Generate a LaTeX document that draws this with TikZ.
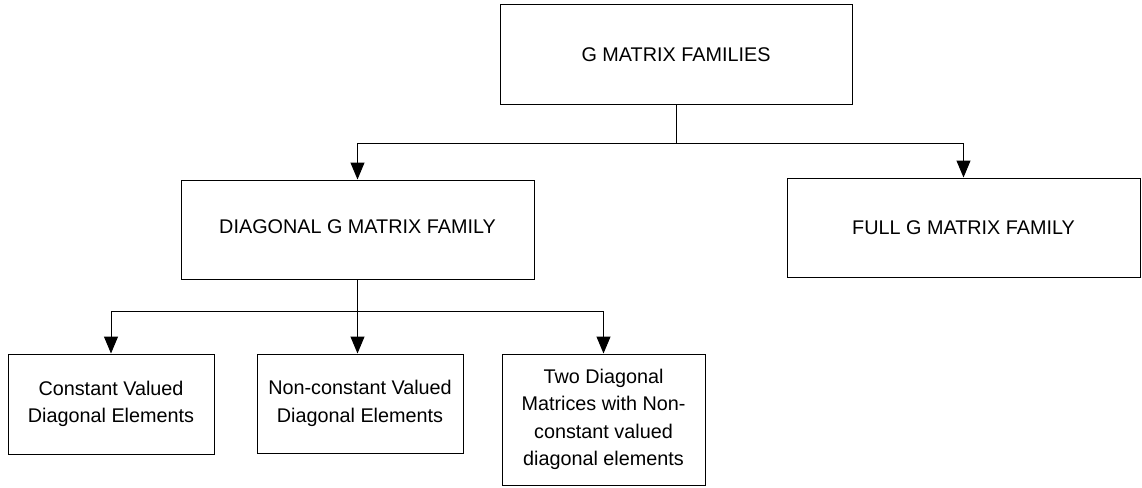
\documentclass[tikz,border=0pt]{standalone}
\usepackage{fontspec}
\setmainfont{Liberation Sans}
\usetikzlibrary{arrows.meta}
\begin{document}
\begin{tikzpicture}[x=1pt,y=-1pt,
  box/.style={draw, line width=1pt, inner sep=0pt, align=center, font=\fontsize{19.8}{27.5}\selectfont},
  arr/.style={line width=1pt, -{Triangle[width=14pt,length=17pt]}},
  ln/.style={line width=1pt}]
\useasboundingbox (0,0) rectangle (1142,487);
\node[box, minimum width=352pt, minimum height=99pt] (top) at (676,54.5) {G MATRIX FAMILIES};
\node[box, minimum width=353pt, minimum height=99pt] (diag) at (357.5,229.5) {\raisebox{5pt}{DIAGONAL G MATRIX FAMILY}};
\node[box, minimum width=353pt, minimum height=99pt] (full) at (963.5,227.5) {FULL G MATRIX FAMILY};
\node[box, minimum width=206pt, minimum height=100pt] (c1) at (111,404) {Constant Valued\\Diagonal Elements};
\node[box, minimum width=206pt, minimum height=99pt] (c2) at (360,403.5) {Non-constant Valued\\Diagonal Elements};
\node[box, minimum width=203pt, minimum height=131pt] (c3) at (603.5,419.5) {Two Diagonal\\Matrices with Non-\\constant valued\\diagonal elements};
\coordinate (j1) at (676,143);
\draw[ln] (top.south) -- (j1);
\draw[arr] (j1) -| (diag.north);
\draw[arr] (j1) -| (full.north);
\coordinate (j2) at (357.5,311);
\draw[ln] (diag.south) -- (j2);
\draw[arr] (j2) -| (c1.north);
\draw[arr] (j2) -- (j2 |- c2.north);
\draw[arr] (j2) -| (c3.north);
\end{tikzpicture}
\end{document}
